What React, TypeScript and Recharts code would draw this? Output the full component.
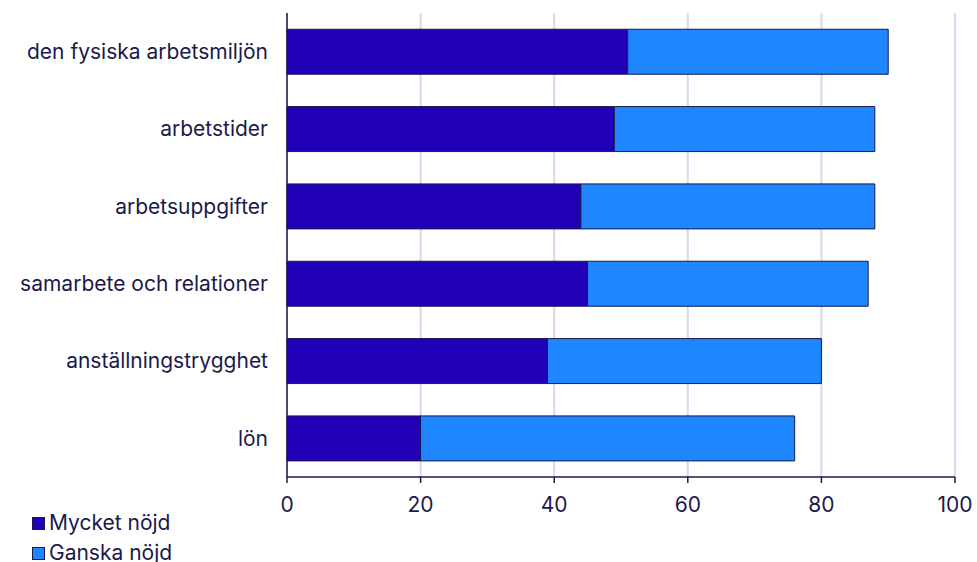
import React from "react";
import { BarChart, Bar, XAxis, YAxis, CartesianGrid } from "recharts";

const categories = [
  "den fysiska arbetsmiljön",
  "arbetstider",
  "arbetsuppgifter",
  "samarbete och relationer",
  "anställningstrygghet",
  "lön",
];
const mycketNojd = [51, 49, 44, 45, 39, 20];
const ganskaNojd = [39, 39, 44, 42, 41, 56];
const xTicks = [0, 20, 40, 60, 80, 100];

const seriesNames = ["Mycket nöjd", "Ganska nöjd"];
const seriesColors = ["#2200b8", "#1e86ff"];

const data = categories.map((c, i) => ({
  name: c,
  m: mycketNojd[i],
  g: ganskaNojd[i],
}));

const TEXT = "#1b1a4b";
const FONT = "Inter, sans-serif";

export default function App() {
  return (
    <div style={{ position: "absolute", left: 0, top: 0, width: 977, height: 562, fontFamily: FONT, overflow: "hidden" }}>
      <BarChart
        width={977}
        height={562}
        data={data}
        layout="vertical"
        margin={{ top: 13, right: 22, left: 0, bottom: 55 }}
        barCategoryGap="21%"
      >
        <CartesianGrid horizontal={false} vertical={true} stroke="#d8d6f0" strokeWidth={2} />
        <XAxis
          type="number"
          domain={[0, 100]}
          ticks={xTicks}
          height={30}
          axisLine={{ stroke: TEXT, strokeWidth: 1.5 }}
          tickLine={{ stroke: TEXT, strokeWidth: 1.5 }}
          tickSize={6}
          tickMargin={14}
          tick={{ fill: TEXT, fontSize: 21, fontFamily: FONT }}
        />
        <YAxis
          type="category"
          dataKey="name"
          width={287}
          axisLine={{ stroke: TEXT, strokeWidth: 1.5 }}
          tickLine={false}
          tickSize={6}
          tickMargin={13}
          tick={{ fill: TEXT, fontSize: 21, fontFamily: FONT }}
        />
        <Bar dataKey="m" stackId="a" fill={seriesColors[0]} stroke={TEXT} strokeWidth={1} isAnimationActive={false} />
        <Bar dataKey="g" stackId="a" fill={seriesColors[1]} stroke={TEXT} strokeWidth={1} isAnimationActive={false} />
      </BarChart>
      <div style={{ position: "absolute", left: 32, top: 508 }}>
        {seriesNames.map((n, i) => (
          <div key={n} style={{ display: "flex", alignItems: "center", height: 30, color: TEXT, fontSize: 21, lineHeight: "30px" }}>
            <span
              style={{
                display: "inline-block",
                width: 11,
                height: 11,
                background: seriesColors[i],
                border: `1px solid ${TEXT}`,
                marginRight: 4,
              }}
            />
            <span>{n}</span>
          </div>
        ))}
      </div>
    </div>
  );
}
